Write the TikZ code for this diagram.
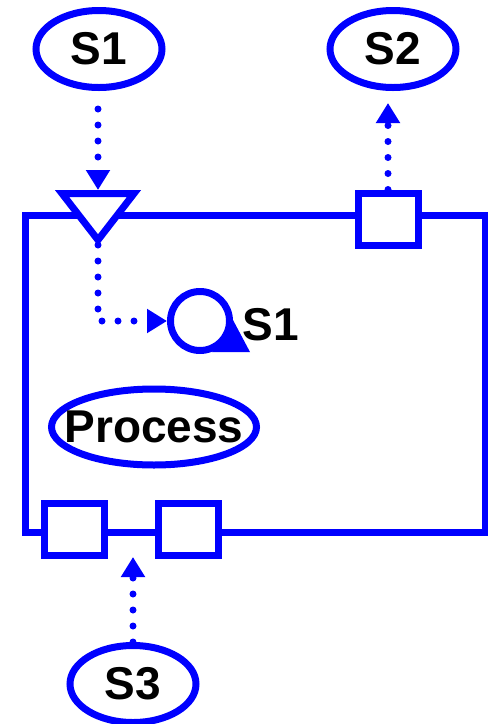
\documentclass[tikz,border=0pt]{standalone}
\usepackage{fontspec}
\setmainfont{Liberation Sans}
\usetikzlibrary{shapes.geometric,arrows.meta}

\begin{document}
\begin{tikzpicture}[
      x=0.5pt, y=-0.5pt,
      line width=3.5pt, blue,
      senal/.style={draw, ellipse, inner sep=0pt, text=black,
                    font=\fontsize{23pt}{27pt}\selectfont\bfseries,
                    minimum width=63pt, minimum height=38.5pt},
      marco/.style={draw, rectangle, minimum width=230pt, minimum height=158.5pt},
      puerto/.style={draw, fill=white, rectangle, inner sep=0pt,
                     minimum width=30pt, minimum height=26pt},
      bucle/.style={draw, circle, inner sep=0pt, minimum size=29.5pt},
      etiqueta/.style={text=black, inner sep=0pt,
                       font=\fontsize{23pt}{27pt}\selectfont\bfseries},
      flujo/.style={-{Triangle[width=11.5pt,length=10pt]},
                    dash pattern=on 0pt off 8pt, line cap=round}
    ]
    \useasboundingbox (0,0) rectangle (488,724);
    \node[marco]   (m)  at (255,373.5) {};
    \node[senal]   (s1) at (99,49)   {S1};
    \node[senal]   (s2) at (393,49)  {S2};
    \node[senal]   (s3) at (133,684) {S3};
    \node[senal, minimum width=102.5pt, minimum height=38pt] (pr) at (154,427) {\makebox[0pt]{Process}};
    \node[puerto]  (p1) at (388,219) {};
    \node[puerto]  (p2) at (74,529)  {};
    \node[puerto]  (p3) at (188,529) {};
    % input triangle on the top edge
    \coordinate (et) at (98,190);
    \coordinate (ea) at (98,245);
    \draw[fill=white] (62,193.5) -- (134,193.5) -- (98,240) -- cycle;
    \node[bucle]   (b)  at (200,321) {};
    \fill ([shift={(33,-1)}]b.center) -- ([shift={(12,31)}]b.center)
          -- ([shift={(50,31)}]b.center) -- cycle;
    \node[etiqueta, anchor=base west] (t) at (239,340) {S1};
    \coordinate (c3) at (133,557);

    \draw[flujo, shorten <=9pt] (s1.south -| et) -- (et);
    \draw[flujo] (ea) |- (b);
    \draw[flujo, shorten >=6pt] (p1) -- (p1 |- s2.south);
    \draw[flujo] (s3) -- (c3);
  \end{tikzpicture}
\end{document}
